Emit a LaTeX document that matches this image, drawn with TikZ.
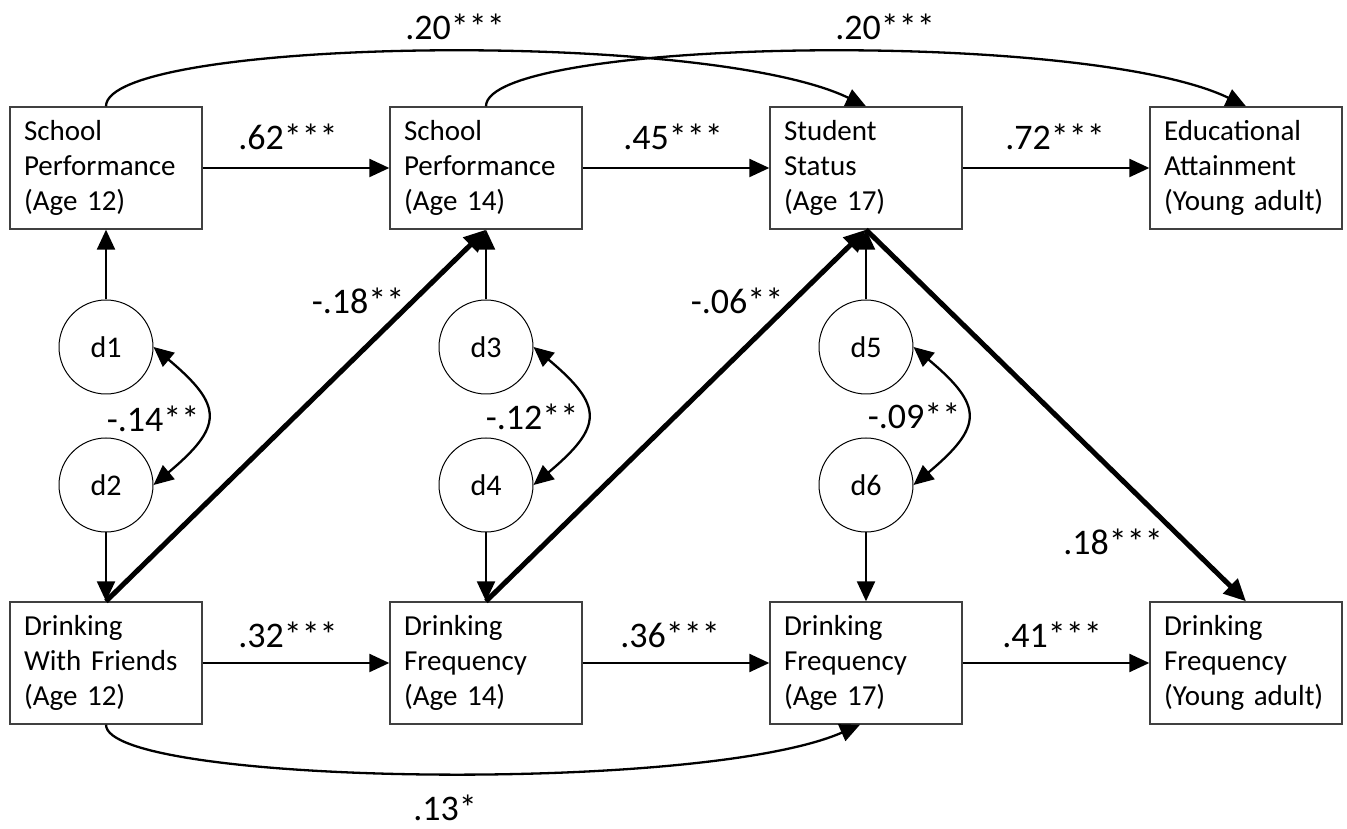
\documentclass[tikz,border=0pt]{standalone}
\usepackage{fontspec}
\setmainfont{Carlito}
\usepackage{tikz}
\usetikzlibrary{arrows.meta, positioning, calc}
\definecolor{boxgray}{HTML}{404040}

\begin{document}
\begin{tikzpicture}[x=1pt, y=1pt,
    varbox/.style={draw=boxgray, line width=1.4pt, minimum height=122pt, text width=164pt,
      inner xsep=14pt, align=left, font=\fontsize{29}{35}\selectfont},
    dist/.style={draw=black, circle, line width=1pt, minimum size=94pt, inner sep=0pt,
      font=\fontsize{30}{30}\selectfont},
    coef/.style={font=\fontsize{36}{36}\selectfont},
    path/.style={line width=2.3pt, -{Triangle[length=20pt, width=18pt]}},
    bigpath/.style={line width=5pt, -{Triangle[length=22pt, width=20pt]}},
    cov/.style={line width=2.3pt, {Triangle[length=20pt, width=18pt]}-{Triangle[length=20pt, width=18pt]}}]
  \useasboundingbox (0,0) rectangle (1347,829);

  % Top row - school outcomes
  \node[varbox] (sp12) at (106,661) {School\\Performance\\(Age 12)};
  \node[varbox] (sp14) at (486,661) {School\\Performance\\(Age 14)};
  \node[varbox] (ss17) at (866,661) {Student\\Status\\(Age 17)};
  \node[varbox] (eduya) at (1246,661) {Educational\\Attainment\\(Young adult)};

  % Bottom row - drinking
  \node[varbox] (dwf12) at (106,166) {Drinking\\With Friends\\(Age 12)};
  \node[varbox] (df14) at (486,166) {Drinking\\Frequency\\(Age 14)};
  \node[varbox] (df17) at (866,166) {Drinking\\Frequency\\(Age 17)};
  \node[varbox] (dfya) at (1246,166) {Drinking\\Frequency\\(Young adult)};

  % Disturbances
  \node[dist] (d1) at (106,482) {d1};
  \node[dist] (d2) at (106,344) {d2};
  \node[dist] (d3) at (486,482) {d3};
  \node[dist] (d4) at (486,344) {d4};
  \node[dist] (d5) at (866,482) {d5};
  \node[dist] (d6) at (866,344) {d6};

  % Stability paths
  \draw[path] (sp12) -- (sp14);
  \draw[path] (sp14) -- (ss17);
  \draw[path] (ss17) -- (eduya);
  \draw[path] (dwf12) -- (df14);
  \draw[path] (df14) -- (df17);
  \draw[path] (df17) -- (dfya);
  \node[coef] (c62) at (288,692) {.62***};
  \node[coef] (c45) at (673,692) {.45***};
  \node[coef] (c72) at (1055,692) {.72***};
  \node[coef] (c32) at (288,194) {.32***};
  \node[coef] (c36) at (670,194) {.36***};
  \node[coef] (c41) at (1052,194) {.41***};

  % Lagged paths over the top and under the bottom
  \draw[path] (sp12.north) .. controls +(0,68) and +(-162,78) .. (ss17.north);
  \draw[path] (sp14.north) .. controls +(0,68) and +(-162,78) .. (eduya.north);
  \draw[path] (dwf12.south) .. controls +(0,-60) and +(-160,-70) .. ([xshift=-6pt]df17.south);
  \node[coef] (c20a) at (455,802) {.20***};
  \node[coef] (c20b) at (885,802) {.20***};
  \node[coef] (c13) at (445,21) {.13*};

  % Disturbance arrows
  \draw[path] (d1) -- (sp12);
  \draw[path] (d2) -- (dwf12);
  \draw[path] (d3) -- (sp14);
  \draw[path] (d4) -- (df14);
  \draw[path] (d5) -- (ss17);
  \draw[path] (d6) -- (df17);

  % Residual covariances
  \draw[cov] (d1.east) to[out=-40, in=40, looseness=1.7] (d2.east);
  \draw[cov] (d3.east) to[out=-40, in=40, looseness=1.7] (d4.east);
  \draw[cov] (d5.east) to[out=-40, in=40, looseness=1.7] (d6.east);
  \node[coef] (c14) at (153,410) {-.14**};
  \node[coef] (c12) at (532,412) {-.12**};
  \node[coef] (c09) at (914,413) {-.09**};

  % Cross-lagged paths (bold)
  \draw[bigpath] (dwf12.north) -- (sp14.south);
  \draw[bigpath] (df14.north) -- (ss17.south);
  \draw[bigpath] (ss17.south) -- (dfya.north);
  \node[coef] (c18n) at (358,528) {-.18**};
  \node[coef] (c06) at (737,528) {-.06**};
  \node[coef] (c18p) at (1113,287) {.18***};
\end{tikzpicture}
\end{document}
